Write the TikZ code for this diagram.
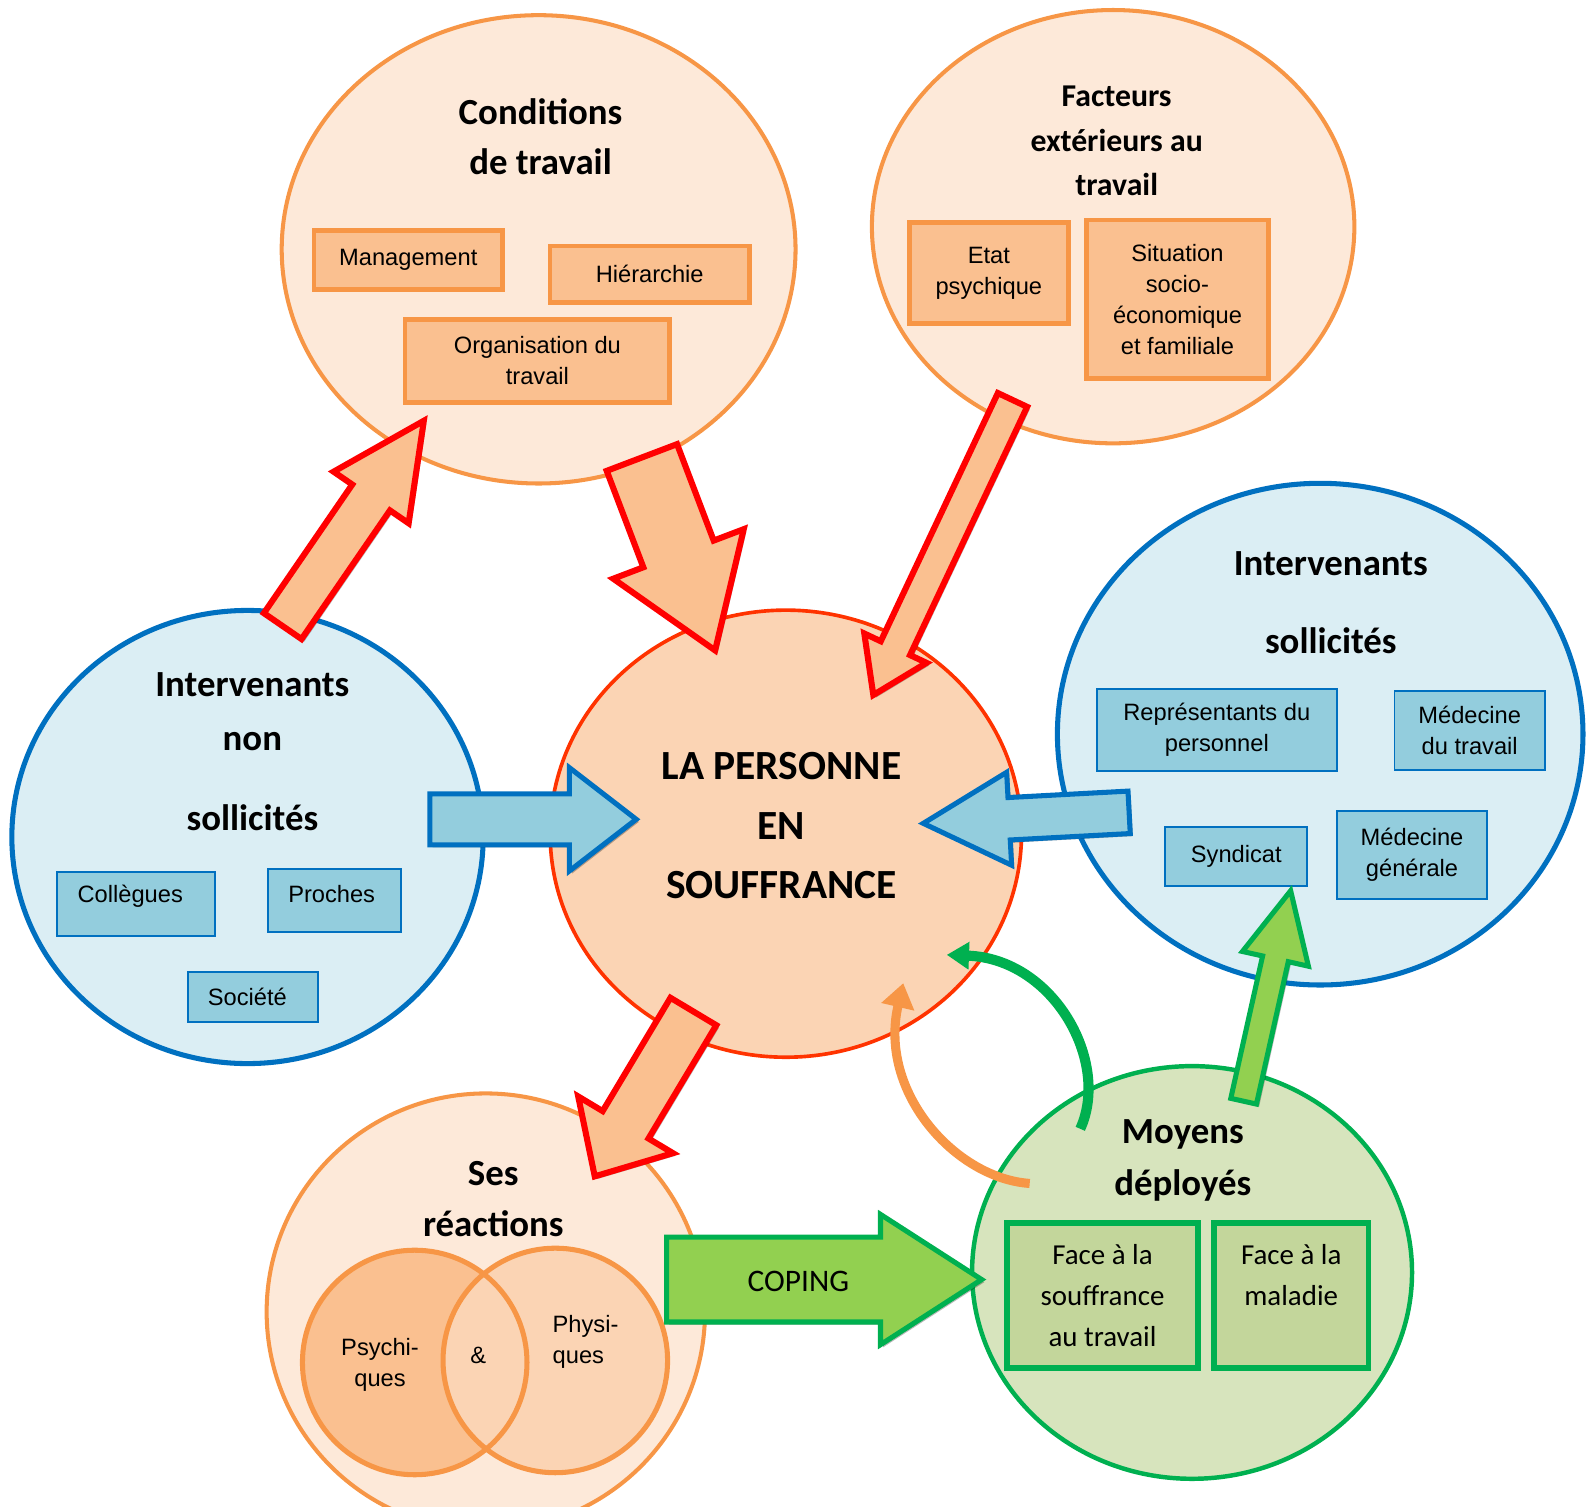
\documentclass[tikz,border=0pt]{standalone}
\usepackage{fontspec}
\setmainfont{Carlito}
\newfontfamily\arialf{Liberation Sans}
\usetikzlibrary{calc,shapes.geometric,shadows,arrows.meta}

\definecolor{peachL}{HTML}{FDE9D9}
\definecolor{peachC}{HTML}{FBD4B4}
\definecolor{orBox}{HTML}{FAC090}
\definecolor{orLine}{HTML}{F79646}
\definecolor{redC}{HTML}{FF3300}
\definecolor{redA}{HTML}{FF0000}
\definecolor{blueL}{HTML}{DBEEF4}
\definecolor{blueBox}{HTML}{93CDDD}
\definecolor{blueLine}{HTML}{0070C0}
\definecolor{greenL}{HTML}{D7E4BD}
\definecolor{greenBox}{HTML}{C3D69B}
\definecolor{greenLine}{HTML}{00B050}
\definecolor{greenA}{HTML}{92D050}

% [style]{tail}{tip}{half shaft}{half head}{head length}
\newcommand{\blockarrow}[6][]{%
  \path ($(#3)!#6!(#2)$) coordinate (hb);
  \draw[#1] ($(#2)!#4!90:(#3)$) -- ($(hb)!#4!90:(#3)$) -- ($(hb)!#5!90:(#3)$) -- (#3)
    -- ($(hb)!#5!-90:(#3)$) -- ($(hb)!#4!-90:(#3)$) -- ($(#2)!#4!-90:(#3)$) -- cycle;
}

\begin{document}
\begin{tikzpicture}[x=0.5pt,y=-0.5pt,
  ell/.style={ellipse, inner sep=0pt},
  ttl/.style={font=\bfseries\fontsize{18.2}{24.7}\selectfont, align=center, inner sep=0pt},
  txt/.style={font=\arialf\fontsize{11.7}{15.3}\selectfont, align=center, inner sep=0pt},
  obox/.style={rectangle, fill=orBox, draw=orLine, line width=2.2pt, txt},
  bbox/.style={rectangle, fill=blueBox, draw=blueLine, line width=0.9pt, txt},
  gbox/.style={rectangle, fill=greenBox, draw=greenLine, line width=2.8pt,
    font=\fontsize{14.3}{20.35}\selectfont, align=center, inner sep=0pt},
  shad/.style={drop shadow={shadow xshift=1.3pt, shadow yshift=-1.3pt, opacity=0.28, fill=black}},
  redarrow/.style={fill=orBox, draw=redA, line width=3pt, line join=miter, shad},
  bluearrow/.style={fill=blueBox, draw=blueLine, line width=2.5pt, line join=miter, shad},
  greenarrow/.style={fill=greenA, draw=greenLine, line width=2.5pt, line join=miter, shad},
]
\clip (0,0) rectangle (1568,1489);

% ---------- big ellipses ----------
\node (cond) [ell, fill=peachL, draw=orLine, line width=2pt, minimum width=254pt, minimum height=231.5pt] at (532.5,246.5) {};
\node (fact) [ell, fill=peachL, draw=orLine, line width=2pt, minimum width=238.5pt, minimum height=214.2pt] at (1100.5,224.1) {};
\node (inon) [ell, fill=blueL, draw=blueLine, line width=2.5pt, minimum width=233pt, minimum height=224pt] at (244.7,827.5) {};
\node (isol) [ell, fill=blueL, draw=blueLine, line width=2.5pt, minimum width=259.8pt, minimum height=248pt] at (1305.2,725.8) {};
\node (pers) [ell, fill=peachC, draw=redC, line width=1.8pt, minimum width=233pt, minimum height=221pt] at (776.9,824.2) {};
\node (reac) [ell, fill=peachL, draw=orLine, line width=2pt, minimum width=216.7pt, minimum height=216pt] at (480.3,1297) {};
\node (moy) [ell, fill=greenL, draw=greenLine, line width=2.2pt, minimum width=217.5pt, minimum height=204pt] at (1178.5,1258) {};

% Venn circles
\fill[orBox] (410,1347) circle [radius=111];
\node (phy) [circle, fill=peachC, draw=orLine, line width=2.5pt, minimum size=111pt, inner sep=0pt] at (549,1345) {};
\node (psy) [circle, draw=orLine, line width=2.5pt, minimum size=111pt, inner sep=0pt] at (410,1347) {};

% ---------- titles ----------
\node (condT) [ttl] at (534.4,135.1) {Conditions\\de travail};
\node (factT) [ttl, font=\bfseries\fontsize{15.7}{21.8}\selectfont] at (1104,139.3) {Facteurs\\extérieurs au\\travail};
\node (inonT) [ttl, font=\bfseries\fontsize{18.2}{26.4}\selectfont] at (249.5,743.1) {Intervenants\\non\\[13.1pt]sollicités};
\node (isolT) [ttl, font=\bfseries\fontsize{18.2}{38.7}\selectfont] at (1315.7,595.7) {Intervenants\\sollicités};
\node (persT) [ttl, font=\bfseries\fontsize{20.5}{29.45}\selectfont] at (772.6,816.3) {LA PERSONNE\\EN\\SOUFFRANCE};
\node (reacT) [ttl, font=\bfseries\fontsize{18.2}{25.5}\selectfont] at (487.7,1185.5) {Ses\\réactions};
\node (moyT) [ttl, font=\bfseries\fontsize{18.2}{25.65}\selectfont] at (1169.4,1147.1) {Moyens\\déployés};

% ---------- boxes ----------
\node (mgmt) [obox, minimum width=93.25pt, minimum height=29pt] at (403.65,257) {Management};
\node (hier) [obox, minimum width=98.6pt, minimum height=28pt] at (642.3,271.2) {Hiérarchie};
\node (orga) [obox, minimum width=130.7pt, minimum height=41pt] at (531.3,356.75) {Organisation du\\travail};
\node (etat) [obox, minimum width=78.6pt, minimum height=49.75pt] at (977.6,269.85) {Etat\\psychique};
\node (situ) [obox, minimum width=89.8pt, minimum height=78.25pt] at (1164.1,295.75) {Situation\\socio-\\économique\\et familiale};

\node (coll) [bbox, minimum width=78.1pt, minimum height=31.5pt, text depth=9.8pt] at (134.8,893.9) {Collègues\hspace{6pt}};
\node (proc) [bbox, minimum width=65.9pt, minimum height=31.45pt, text depth=6.5pt] at (330.5,890.25) {Proches\hspace{2.6pt}};
\node (soci) [bbox, minimum width=64.6pt, minimum height=24.7pt] at (250.1,985.7) {Société\hspace{5.6pt}};

\node (repr) [bbox, minimum width=118.75pt, minimum height=40.55pt] at (1203,721.35) {Représentants du\\personnel};
\node (medt) [bbox, minimum width=74.3pt, minimum height=38.9pt] at (1453,722.4) {Médecine\\du travail};
\node (synd) [bbox, minimum width=70.25pt, minimum height=29.35pt] at (1222.25,846.65) {Syndicat};
\node (medg) [bbox, minimum width=74.5pt, minimum height=43.65pt] at (1396,845.15) {Médecine\\générale};

\node (fsouf) [gbox, minimum width=94.3pt, minimum height=71.85pt] at (1090,1280.85) {Face à la\\souffrance\\au travail};
\node (fmal) [gbox, minimum width=76.45pt, minimum height=71.85pt] at (1276.55,1280.85) {Face à la\\maladie\\\rule{0pt}{6pt}};

% Venn texts
\node (psyT) [txt] at (375.7,1349.5) {Psychi-\\ques};
\node (amp) [txt] at (472.9,1339.6) {\&};
\node (phyT) [txt, align=left, anchor=west] at (546,1326.4) {Physi-\\ques};

% ---------- block arrows ----------
\coordinate (aAs) at (279.5,619);   \coordinate (aAt) at (419,416);
\coordinate (aBs) at (634.6,452.3); \coordinate (aBt) at (707,643);
\coordinate (aCs) at (1001,395.4);  \coordinate (aCt) at (863.4,687.1);
\coordinate (aDs) at (425,810);     \coordinate (aDt) at (629,810);
\coordinate (aEs) at (1116.3,803.1);\coordinate (aEt) at (912.8,814);
\coordinate (aFs) at (685.5,1000);  \coordinate (aFt) at (588,1163);
\coordinate (aGs) at (659,1265);    \coordinate (aGt) at (970.5,1265);
\coordinate (aHs) at (1229.5,1088.7);\coordinate (aHt) at (1276,880.6);

\blockarrow[redarrow]{aAs}{aAt}{11.3pt}{22.5pt}{46pt}
\blockarrow[redarrow]{aBs}{aBt}{18.6pt}{34.5pt}{51pt}
\blockarrow[redarrow]{aCs}{aCt}{8pt}{17pt}{25.6pt}
\blockarrow[bluearrow]{aDs}{aDt}{12.6pt}{25.5pt}{33pt}
\blockarrow[bluearrow]{aEs}{aEt}{10.5pt}{23pt}{42.5pt}
\blockarrow[redarrow]{aFs}{aFt}{13.2pt}{27.3pt}{29.7pt}
\blockarrow[greenarrow]{aGs}{aGt}{21pt}{32.2pt}{50pt}
\blockarrow[greenarrow]{aHs}{aHt}{6.5pt}{16.7pt}{34.5pt}

\node (coping) [font=\fontsize{15.5}{18}\selectfont, inner sep=0pt] at (789.3,1267.1) {COPING};

% ---------- curved arrows ----------
\coordinate (gcs) at (1068,1116); \coordinate (gce) at (936,944);
\coordinate (ocs) at (1018,1170); \coordinate (oce) at (893,972);
\draw[greenLine, line width=5pt, -{Triangle[length=11pt,width=13pt]}]
  (gcs) .. controls (1098,1050) and (1042,948) .. (gce);
\draw[orLine, line width=4.5pt, -{Triangle[length=12pt,width=16pt]}]
  (ocs) .. controls (945,1165) and (868,1080) .. (oce);
\end{tikzpicture}
\end{document}
